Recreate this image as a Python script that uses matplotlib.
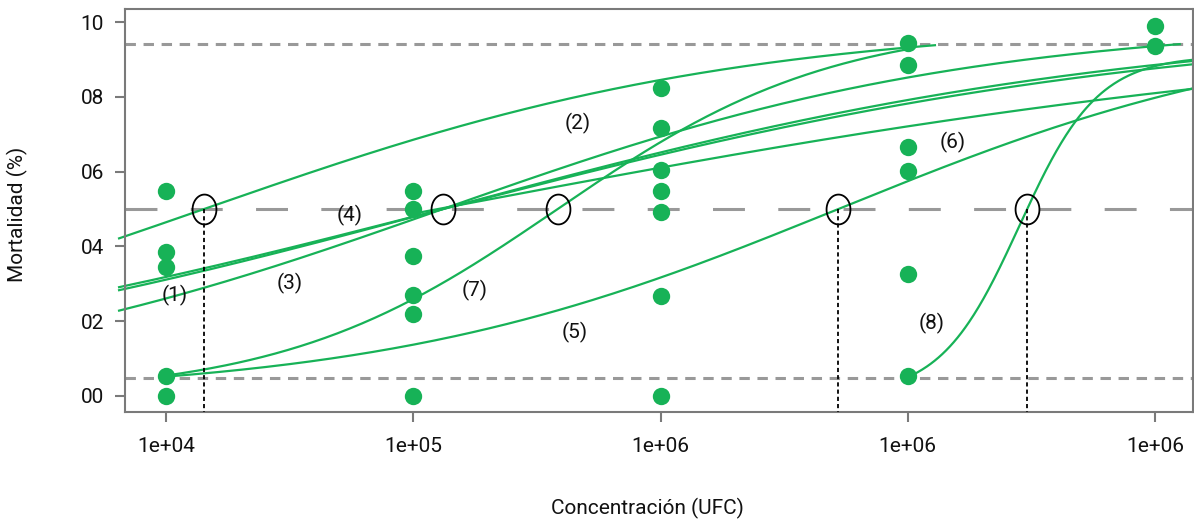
import numpy as np
import matplotlib
matplotlib.use("Agg")
import matplotlib.pyplot as plt
from matplotlib.path import Path
from matplotlib.ticker import NullLocator

plt.rcParams['font.family'] = ['Roboto', 'DejaVu Sans']
plt.rcParams['lines.scale_dashes'] = False

# mortalidad observada por concentracion
conc_levels = [1e4, 1e5, 1e6, 1e7, 1e8]
mort_1e4 = [0.548, 0.385, 0.345, 0.053, 0.0]
mort_1e5 = [0.548, 0.500, 0.374, 0.270, 0.219, 0.0]
mort_1e6 = [0.823, 0.717, 0.604, 0.548, 0.492, 0.267, 0.0]
mort_1e7 = [0.944, 0.885, 0.666, 0.602, 0.326, 0.053]
mort_1e8 = [0.989, 0.936]
mort_obs = [mort_1e4, mort_1e5, mort_1e6, mort_1e7, mort_1e8]

# curvas ajustadas (log10 CL50, pendiente, asintota superior, tramo en log10)
curve_lc50 = [4.154, 5.12, 5.12, 5.12, 5.10, 6.719, 5.584, 7.483]
curve_slope = [0.92, 0.93, 0.71, 0.68, 0.50, 1.07, 1.80, 6.3]
curve_top = [1.0, 1.0, 1.0, 1.0, 1.0, 1.0, 1.0, 0.91]
curve_from = [3.81, 3.81, 3.81, 3.81, 5.0, 4.0, 4.0, 7.0]
curve_to = [7.11, 8.10, 8.16, 8.16, 8.16, 8.16, 7.0, 8.16]

circle_curves = [0, 1, 6, 5, 7]
drop_curves = [0, 5, 7]

ref_levels = [0.048, 0.5, 0.942]

curve_labels = ["(1)", "(2)", "(3)", "(4)", "(5)", "(6)", "(7)", "(8)"]
label_pos = [(4.036, 0.268), (5.665, 0.730), (4.501, 0.302), (4.743, 0.484),
             (5.653, 0.171), (7.180, 0.677), (5.250, 0.283), (7.095, 0.195)]

xtick_labels = ["1e+04", "1e+05", "1e+06", "1e+06", "1e+06"]
ytick_vals = [0.0, 0.2, 0.4, 0.6, 0.8, 1.0]
ytick_labels = ["00", "02", "04", "06", "08", "10"]

green = '#17b257'
grey = '#999999'
spine = '#7a7a7a'


def logistic(lx, lc50, b, top):
    e = lc50 + np.log(2 * top - 1) / b
    return top / (1 + np.exp(-b * (lx - e)))


fig = plt.figure(figsize=(11.94, 5.24), dpi=100)
ax = fig.add_axes([0.1047, 0.2137, 0.8945, 0.7691])

ax.set_xscale('log')
ax.set_xlim(10 ** 3.834, 10 ** 8.154)
ax.set_ylim(-0.043, 1.035)

# lineas de referencia
ax.axhline(ref_levels[0], color=grey, lw=2.2, ls=(0, (7.5, 5.5)), zorder=1)
ax.axhline(ref_levels[2], color=grey, lw=2.2, ls=(0, (7.5, 5.5)), zorder=1)
ax.axhline(ref_levels[1], color=grey, lw=2.2, ls=(0, (23, 24)), zorder=1)

for i in range(len(curve_lc50)):
    lx = np.linspace(curve_from[i], curve_to[i], 300)
    y = logistic(lx, curve_lc50[i], curve_slope[i], curve_top[i])
    ax.plot(10 ** lx, y, color=green, lw=1.6, zorder=2, clip_on=False)

for c, vals in zip(conc_levels, mort_obs):
    ax.plot([c] * len(vals), vals, 'o', color=green, ms=12.5, mec='none', zorder=3)

# CL50 marcadas
t = np.linspace(0, 2 * np.pi, 60)
ell = Path(np.column_stack([0.8 * np.cos(t), np.sin(t)]))
for i in circle_curves:
    ax.plot(10 ** curve_lc50[i], 0.5, marker=ell, ms=21.5, mfc='none',
            mec='black', mew=1.3, zorder=4)
for i in drop_curves:
    ax.plot([10 ** curve_lc50[i]] * 2, [0.5, -0.043], color='black', lw=1.3,
            ls=(0, (3, 2.2)), zorder=4)

for txt, (lx, yy) in zip(curve_labels, label_pos):
    ax.text(10 ** lx, yy, txt, ha='center', va='center', fontsize=15, color='#111111')

ax.set_xticks(conc_levels)
ax.set_xticklabels(xtick_labels)
ax.xaxis.set_minor_locator(NullLocator())
ax.set_yticks(ytick_vals)
ax.set_yticklabels(ytick_labels)

for s in ax.spines.values():
    s.set_color(spine)
    s.set_linewidth(1.5)
ax.tick_params(axis='both', colors=spine, width=1.5, length=7, labelsize=15,
               labelcolor='#111111')
ax.tick_params(axis='x', pad=11)
ax.tick_params(axis='y', pad=8)

ax.set_xlabel("Concentración (UFC)", fontsize=15, color='#111111')
ax.set_ylabel("Mortalidad (%)", fontsize=15, color='#111111')
ax.xaxis.set_label_coords(0.489, -0.212)
ax.yaxis.set_label_coords(-0.091, 0.49)

fig.savefig("out.png", dpi=100)
